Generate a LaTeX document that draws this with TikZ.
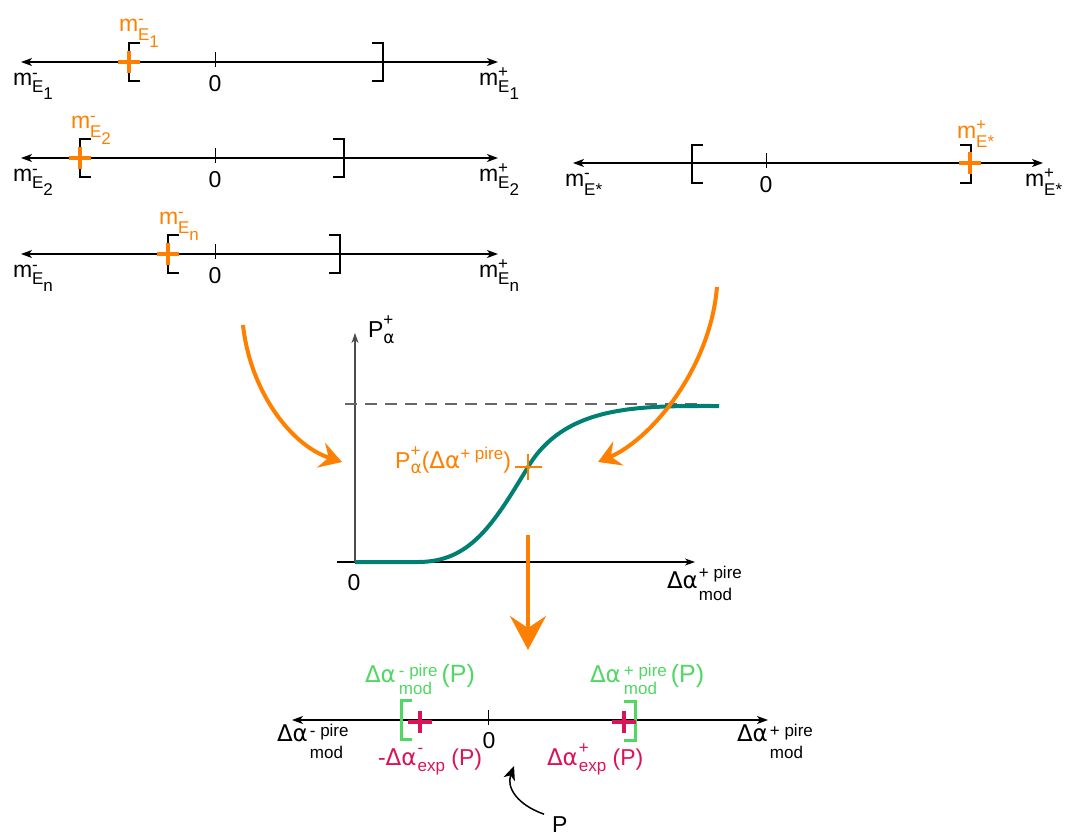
\documentclass[tikz,border=0pt]{standalone}
\usepackage{fontspec}
\setmainfont{Liberation Sans}
\newfontfamily\gk{DejaVu Sans}
\usetikzlibrary{arrows.meta}
\definecolor{orng}{RGB}{255,128,0}
\definecolor{grn}{RGB}{80,215,100}
\definecolor{crim}{RGB}{218,20,85}
\definecolor{tealc}{RGB}{0,128,115}
% base, superscript, subscript, raise, lower
\newcommand{\mylab}[5]{#1\begingroup\fontsize{17}{19}\selectfont
  \setbox0\hbox{#2}\setbox2\hbox{#3}%
  \ifdim\wd0>\wd2 \dimen0=\wd0 \else\dimen0=\wd2 \fi
  \rlap{\raise#4\box0}\rlap{\lower#5\box2}\kern\dimen0\endgroup}
\newcommand{\da}{{\gk Δα}}
\newcommand{\bigP}{{\fontsize{25}{29}\selectfont(P)}}
\begin{document}
\begin{tikzpicture}[x=1pt,y=-1pt,
  every node/.style={inner sep=0pt,outer sep=0pt,font=\fontsize{23}{27}\selectfont},
  axisline/.style={line width=1.2pt,{Stealth[length=11pt,width=8pt,inset=3pt]}-{Stealth[length=11pt,width=8pt,inset=3pt]}},
  tickline/.style={line width=1pt},
  brk/.style={line width=1.3pt},
  oplus/.style={orng,line width=4pt},
  cplus/.style={crim,line width=4pt},
  gbrk/.style={grn,line width=3pt},
  oarrow/.style={orng,line width=4pt,-{Stealth[length=22pt,width=26pt,inset=8pt]}},
  olab/.style={text=orng},
]
\useasboundingbox (0,0) rectangle (1066,835);

% ---------- line E1 ----------
\coordinate (a1l) at (21,62); \coordinate (a1r) at (498,62);
\draw[axisline] (a1l) -- (a1r);
\draw[tickline] (215,52) -- (215,67);
\node[anchor=base] (z1) at (215,91) {0};
\draw[brk] (140,43) -- (129,43) -- (129,81) -- (140,81);
\draw[brk] (372,43) -- (383,43) -- (383,81) -- (372,81);
\draw[oplus] (118,62) -- (140,62) (129,51) -- (129,73);
\node[anchor=base west,olab] (o1) at (119,31) {\mylab{m}{-}{E\lower7pt\hbox{1}}{7pt}{9pt}};
\node[anchor=base west] (l1) at (13,85) {\mylab{m}{-}{E\lower7pt\hbox{1}}{7pt}{7pt}};
\node[anchor=base west] (r1) at (479,85) {\mylab{m}{+}{E\lower7pt\hbox{1}}{8pt}{7pt}};

% ---------- line E2 ----------
\coordinate (a2l) at (21,158); \coordinate (a2r) at (498,158);
\draw[axisline] (a2l) -- (a2r);
\draw[tickline] (215,148) -- (215,163);
\node[anchor=base] (z2) at (215,187) {0};
\draw[brk] (91,139) -- (80,139) -- (80,177) -- (91,177);
\draw[brk] (333,139) -- (344,139) -- (344,177) -- (333,177);
\draw[oplus] (69,158) -- (91,158) (80,147) -- (80,169);
\node[anchor=base west,olab] (o2) at (71,128) {\mylab{m}{-}{E\lower7pt\hbox{2}}{7pt}{9pt}};
\node[anchor=base west] (l2) at (13,181) {\mylab{m}{-}{E\lower7pt\hbox{2}}{7pt}{7pt}};
\node[anchor=base west] (r2) at (479,181) {\mylab{m}{+}{E\lower7pt\hbox{2}}{8pt}{7pt}};

% ---------- line En ----------
\coordinate (a3l) at (21,254); \coordinate (a3r) at (498,254);
\draw[axisline] (a3l) -- (a3r);
\draw[tickline] (215,244) -- (215,259);
\node[anchor=base] (z3) at (215,283) {0};
\draw[brk] (179,235) -- (168,235) -- (168,273) -- (179,273);
\draw[brk] (329,235) -- (340,235) -- (340,273) -- (329,273);
\draw[oplus] (157,254) -- (179,254) (168,243) -- (168,265);
\node[anchor=base west,olab] (o3) at (159,224) {\mylab{m}{-}{E\lower7pt\hbox{n}}{7pt}{9pt}};
\node[anchor=base west] (l3) at (13,277) {\mylab{m}{-}{E\lower7pt\hbox{n}}{7pt}{7pt}};
\node[anchor=base west] (r3) at (479,277) {\mylab{m}{+}{E\lower7pt\hbox{n}}{8pt}{7pt}};

% ---------- line E* ----------
\coordinate (a4l) at (573,163); \coordinate (a4r) at (1043,163);
\draw[axisline] (a4l) -- (a4r);
\draw[tickline] (766,153) -- (766,168);
\node[anchor=base] (z4) at (766,192) {0};
\draw[brk] (703,145) -- (692,145) -- (692,183) -- (703,183);
\draw[brk] (960,145) -- (971,145) -- (971,183) -- (960,183);
\draw[oplus] (959,163) -- (981,163) (970,152) -- (970,174);
\node[anchor=base west,olab] (o4) at (957,138) {\mylab{m}{+}{E*}{8pt}{9pt}};
\node[anchor=base west] (l4) at (565,186) {\mylab{m}{-}{E*}{8pt}{9pt}};
\node[anchor=base west] (r4) at (1025,186) {\mylab{m}{+}{E*}{8pt}{9pt}};

% ---------- graph ----------
\coordinate (xo) at (337,562); \coordinate (xe) at (695,562);
\coordinate (yo) at (355,562); \coordinate (ye) at (355,333);
\draw[line width=1.2pt,-{Stealth[length=10pt,width=7pt,inset=3pt]}] (xo) -- (xe);
\draw[line width=1.2pt,black!70,-{Stealth[length=10pt,width=7pt,inset=3pt]}] (yo) -- (ye);
\draw[black!60,line width=1.5pt,dash pattern=on 12pt off 8pt] (345,404) -- (697,404);
\draw[tealc,line width=4pt] (355,562) -- (418,562) .. controls (470,562) and (493,525) .. (528,467)
   .. controls (566,404) and (640,406) .. (719,406);
\draw[orng,line width=2pt] (515,467) -- (542,467) (528,454) -- (528,480);
\node[anchor=base east,olab] (pl) at (511,468) {\mylab{P}{+}{\gk α}{12pt}{5pt}(\da\mylab{}{+ pire}{}{9pt}{0pt})};
\node[anchor=base west] (py) at (368,337) {\mylab{P}{+}{\gk α}{12pt}{6pt}};
\node[anchor=base] (z5) at (354,590) {0};
\node[anchor=base west] (px) at (667,588) {\da\kern1pt\mylab{}{+ pire}{mod}{10pt}{12pt}};

% orange arrows
\coordinate (la0) at (243,325); \coordinate (la1) at (342,462);
\coordinate (ra0) at (717,287); \coordinate (ra1) at (598,462);
\coordinate (da0) at (528,535); \coordinate (da1) at (528,650);
\draw[oarrow] (la0) .. controls (250,390) and (290,445) .. (la1);
\draw[oarrow] (ra0) .. controls (710,370) and (650,440) .. (ra1);
\draw[orng,line width=4pt,-{Stealth[length=34pt,width=36pt,inset=12pt]}] (da0) -- (da1);

% ---------- bottom line ----------
\coordinate (b1) at (292,720); \coordinate (b2) at (768,720);
\draw[axisline] (b1) -- (b2);
\draw[tickline] (488,710) -- (488,725);
\node[anchor=base] (z6) at (489,748) {0};
\draw[gbrk] (412,700) -- (401,700) -- (401,739) -- (412,739);
\draw[gbrk] (624,701) -- (635,701) -- (635,740) -- (624,740);
\draw[cplus] (408,722) -- (432,722) (420,711) -- (420,733);
\draw[cplus] (612,722) -- (636,722) (624,711) -- (624,733);
\node[anchor=base west,text=grn] (g1) at (365,682) {\da\kern3pt\mylab{}{- pire}{mod}{6pt}{12pt}\kern4pt\bigP};
\node[anchor=base west,text=grn] (g2) at (590,682) {\da\kern3pt\mylab{}{+ pire}{mod}{6pt}{12pt}\kern4pt\bigP};
\node[anchor=base west,text=crim] (c1) at (378,765) {-\da\kern1pt\mylab{}{-}{exp}{12pt}{6pt} (P)};
\node[anchor=base west,text=crim] (c2) at (547,765) {\da\kern1pt\mylab{}{+}{exp}{12pt}{6pt} (P)};
\node[anchor=base west] (bl) at (277,741) {\da\kern2pt\mylab{}{- pire}{mod}{5pt}{17pt}};
\node[anchor=base west] (br) at (737,741) {\da\kern2pt\mylab{}{+ pire}{mod}{5pt}{17pt}};
\node[anchor=base west] (P) at (552,832) {P};
\coordinate (pt) at (514,766);
\draw[line width=1.5pt,-{Stealth[length=14pt,width=12pt,inset=4pt]}] (P.north west) ++(-8,-2) .. controls (518,805) and (506,788) .. (pt);
\end{tikzpicture}
\end{document}
